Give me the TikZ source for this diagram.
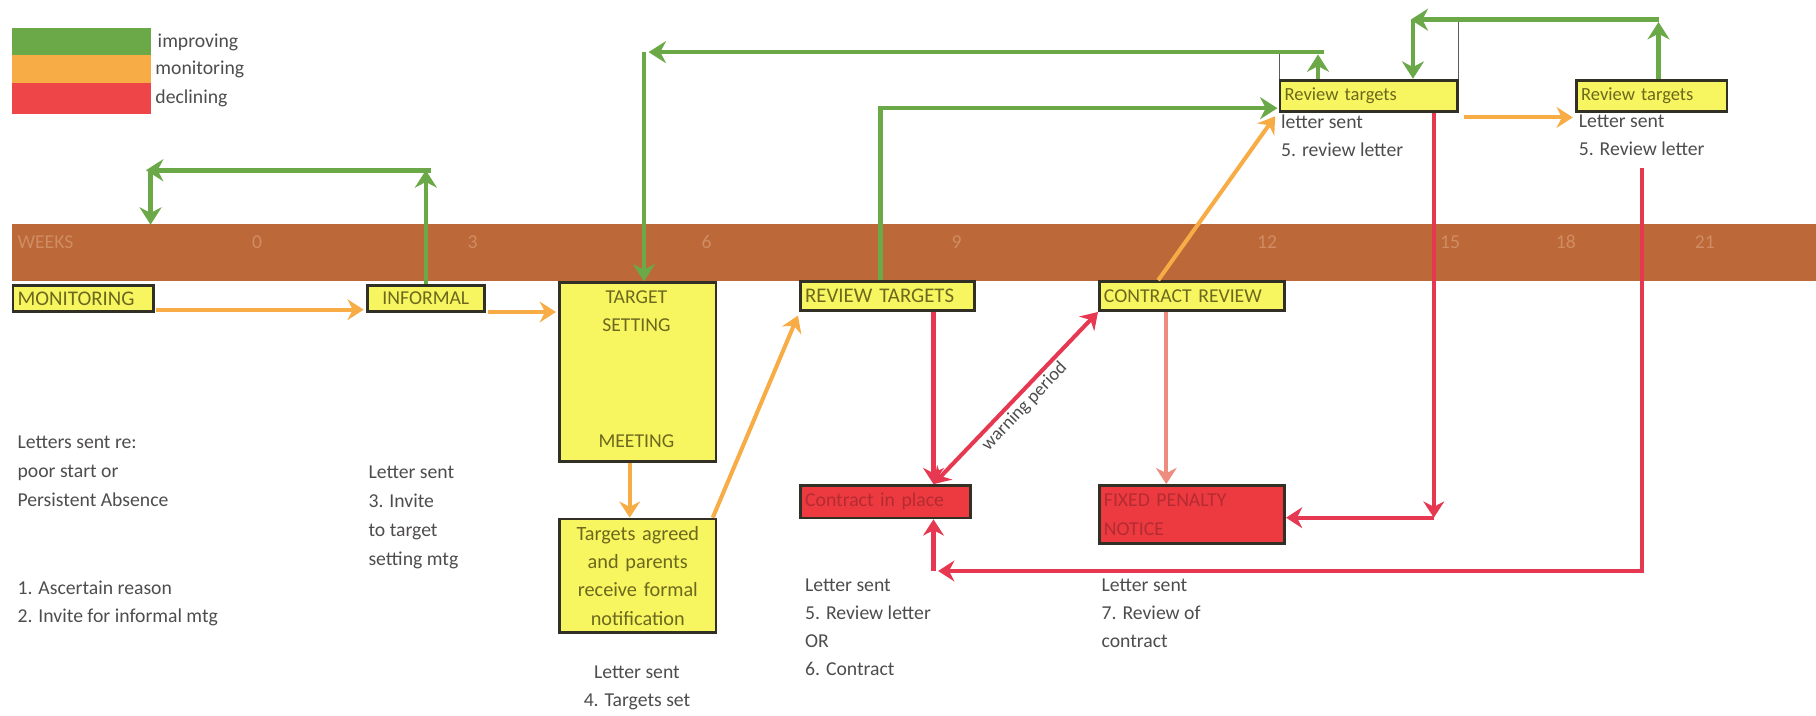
\documentclass[tikz,border=0pt]{standalone}
\usepackage{fontspec}
\setmainfont{Carlito}
\usetikzlibrary{arrows.meta,calc}
\definecolor{lgreen}{RGB}{106,168,72}
\definecolor{lorange}{RGB}{247,172,70}
\definecolor{lred}{RGB}{230,56,80}
\definecolor{legred}{RGB}{238,70,72}
\definecolor{bandc}{RGB}{188,104,56}
\definecolor{bandtext}{RGB}{208,140,98}
\definecolor{yfill}{RGB}{248,246,96}
\definecolor{bborder}{RGB}{50,48,36}
\definecolor{otext}{RGB}{108,104,30}
\definecolor{gtext}{RGB}{78,76,76}
\definecolor{rfill}{RGB}{236,58,64}
\definecolor{rtext}{RGB}{180,44,50}
\definecolor{pinkc}{RGB}{238,140,128}
\definecolor{thinc}{RGB}{90,90,90}
\begin{document}
\begin{tikzpicture}[x=1pt,y=-1pt,
  every node/.style={font=\fontsize{17}{25}\selectfont},
  ybox/.style={draw=bborder,line width=2.4pt,fill=yfill,text=otext,anchor=north west,inner xsep=4pt,inner ysep=0pt,align=left},
  rbox/.style={draw=bborder,line width=2.4pt,fill=rfill,text=rtext,anchor=north west,inner xsep=4pt,inner ysep=0pt,align=left},
  txt/.style={text=gtext,anchor=north west,inner sep=0pt,align=left},
  wk/.style={text=bandtext,inner sep=0pt},
  ga/.style={draw=lgreen,line width=4pt,-{Stealth[length=15pt,width=19pt]}},
  oa/.style={draw=lorange,line width=3.5pt,-{Stealth[length=14pt,width=18pt]}},
  ra/.style={draw=lred,line width=3.5pt,-{Stealth[length=14pt,width=18pt]}},
  rra/.style={draw=lred,line width=3.5pt,{Stealth[length=14pt,width=18pt]}-{Stealth[length=14pt,width=18pt]}},
  pa/.style={draw=pinkc,line width=3.5pt,-{Stealth[length=14pt,width=18pt]}},
  thinln/.style={draw=thinc,line width=1.2pt}]
\useasboundingbox (0,0) rectangle (1568,618);
% legend
\fill[lgreen] (10,24) rectangle (130,47.5);
\fill[lorange] (10,47.5) rectangle (130,72);
\fill[legred] (10,72) rectangle (130,98);
\node[text=gtext,anchor=west,inner sep=0pt] (legA) at (136,37) {improving};
\node[text=gtext,anchor=west,inner sep=0pt] (legB) at (134,60) {monitoring};
\node[text=gtext,anchor=west,inner sep=0pt] (legC) at (134,85) {declining};
% band
\fill[bandc] (10,193) rectangle (1568,243);
\node[wk,anchor=west] (wks) at (15,209) {WEEKS};
\node[wk] (w0) at (222,209) {0};
\node[wk] (w3) at (408,209) {3};
\node[wk] (w6) at (610,209) {6};
\node[wk] (w9) at (826,209) {9};
\node[wk] (w12) at (1094,209) {12};
\node[wk] (w15) at (1252,209) {15};
\node[wk] (w18) at (1352,209) {18};
\node[wk] (w21) at (1472,209) {21};
% boxes
\node[ybox,text width=113pt,minimum height=23pt,font=\fontsize{18}{25}\selectfont] (mon) at (10,245) {MONITORING};
\node[ybox,text width=93pt,minimum height=23pt,align=center] (inf) at (316,245) {INFORMAL};
\node[ybox,minimum width=135pt,minimum height=154pt] (tgt) at (482,243) {};
\node[text=otext,inner sep=0pt] (tgtA) at (549.5,257) {TARGET};
\node[text=otext,inner sep=0pt] (tgtB) at (549.5,281) {SETTING};
\node[text=otext,inner sep=0pt] (tgtC) at (549.5,381) {MEETING};
\node[ybox,text width=127pt,minimum height=98pt,align=center,font=\fontsize{17.5}{24.5}\selectfont] (agr) at (482,447) {Targets agreed\\and parents\\receive formal\\notification};
\node[ybox,text width=142pt,minimum height=25pt,font=\fontsize{18}{25}\selectfont] (rev) at (690,242) {REVIEW TARGETS};
\node[ybox,text width=152pt,minimum height=25pt] (crev) at (948,242) {CONTRACT REVIEW};
\node[rbox,text width=139pt,minimum height=28pt] (cip) at (690,418) {Contract in place};
\node[rbox,text width=152pt,minimum height=50pt] (pen) at (948,418) {FIXED PENALTY\\NOTICE};
\node[ybox,text width=145pt,minimum height=27pt,font=\fontsize{16}{25}\selectfont] (rt1) at (1104,68) {Review targets};
\node[ybox,text width=122pt,minimum height=27pt,font=\fontsize{16}{25}\selectfont] (rt2) at (1360,68) {Review targets};
% free texts
\node[txt] (t1) at (15,376) {Letters sent re:\\poor start or\\Persistent Absence};
\node[txt] (t2) at (15,501) {1. Ascertain reason\\2. Invite for informal mtg};
\node[txt] (t3) at (318,402) {Letter sent\\3. Invite\\to target\\setting mtg};
\node[txt,anchor=north,align=center,font=\fontsize{17}{23.5}\selectfont] (t4) at (550,575) {Letter sent\\4. Targets set};
\node[txt,font=\fontsize{17}{24}\selectfont] (t5) at (695,500) {Letter sent\\5. Review letter\\OR\\6. Contract};
\node[txt,font=\fontsize{17}{24}\selectfont] (t6) at (951,500) {Letter sent\\7. Review of\\contract};
\node[txt,font=\fontsize{17}{24}\selectfont] (t7) at (1106,99) {letter sent\\5. review letter};
\node[txt,font=\fontsize{17}{24}\selectfont] (t8) at (1363,99) {Letter sent\\5. Review letter};
% green connectors
\coordinate (gAl) at (126,147);
\coordinate (gAr) at (372,147);
\coordinate (gAc) at (130,147);
\coordinate (gAd) at (130,194);
\draw[ga] (inf.north) -- (inf.north |- gAr);
\draw[ga] (gAr) -- (gAl);
\draw[ga] (gAc) -- (gAd);
\coordinate (gBx) at (760,0);
\coordinate (rt1in) at ($(rt1.south west)+(-1,-4)$);
\draw[ga] (gBx |- rev.north) |- (rt1in);
\coordinate (gCy) at (0,45);
\coordinate (gCr) at (1143,45);
\coordinate (gCl) at (560,45);
\coordinate (gCx) at (556,0);
\coordinate (gCt) at (1105,45);
\coordinate (gCu) at (1138,47);
\draw[thinln] (gCt) -- (gCt |- rt1.north);
\draw[ga] (gCu |- rt1.north) -- (gCu);
\draw[ga] (gCr) -- (gCl);
\draw[ga] (gCx |- gCy) -- (gCx |- tgt.north);
\coordinate (gDl) at (1218,17);
\coordinate (gDr) at (1432,17);
\coordinate (gDd) at (1220,17);
\draw[thinln] (rt1.north east |- gDr) -- (rt1.north east);
\draw[ga] (gDr) -- (gDl);
\draw[ga] (gDd) -- (gDd |- rt1.north);
\draw[ga] (gDr |- rt2.north) -- ($(gDr)+(0,2)$);
% orange connectors
\draw[oa] ($(mon.south east)+(1,-3)$) -- ($(inf.south west)+(-2,-3)$);
\draw[oa] ($(inf.south east)+(2,-1)$) -- ($(tgt.west |- inf.south)+(-2,-1)$);
\draw[oa] ($(tgt.south)+(-7,0)$) -- ($(agr.north)+(-7,0)$);
\draw[oa] ($(agr.north east)+(-4,0)$) -- ($(rev.south west)+(-1,3)$);
\coordinate (oEx) at (1000,0);
\draw[oa] (oEx |- crev.north) -- ($(rt1.south west)+(-3,3)$);
\draw[oa] ($(rt1.south east)+(5,4)$) -- ($(rt2.south west)+(-2,4)$);
% red connectors
\coordinate (rX) at (806,0);
\draw[ra] (rX |- rev.south) -- (rX |- cip.north);
\draw[rra] (rX |- cip.north) -- (crev.south west) node[midway,sloped,below=2pt,text=gtext,inner sep=0pt,font=\fontsize{16}{20}\selectfont] (warn) {warning period};
\coordinate (pX) at (1007,0);
\draw[pa] (pX |- crev.south) -- (pX |- pen.north);
\coordinate (rY) at (1238,447);
\draw[ra] (rY |- rt1.south) -- (rY);
\draw[ra] (rY) -- (pen.east |- rY);
\coordinate (rZt) at (1418,145);
\coordinate (rZb) at (810,493);
\draw[ra] (rZt) |- (rZb);
\draw[ra] (rX |- rZb) -- (rX |- cip.south);
\end{tikzpicture}
\end{document}
